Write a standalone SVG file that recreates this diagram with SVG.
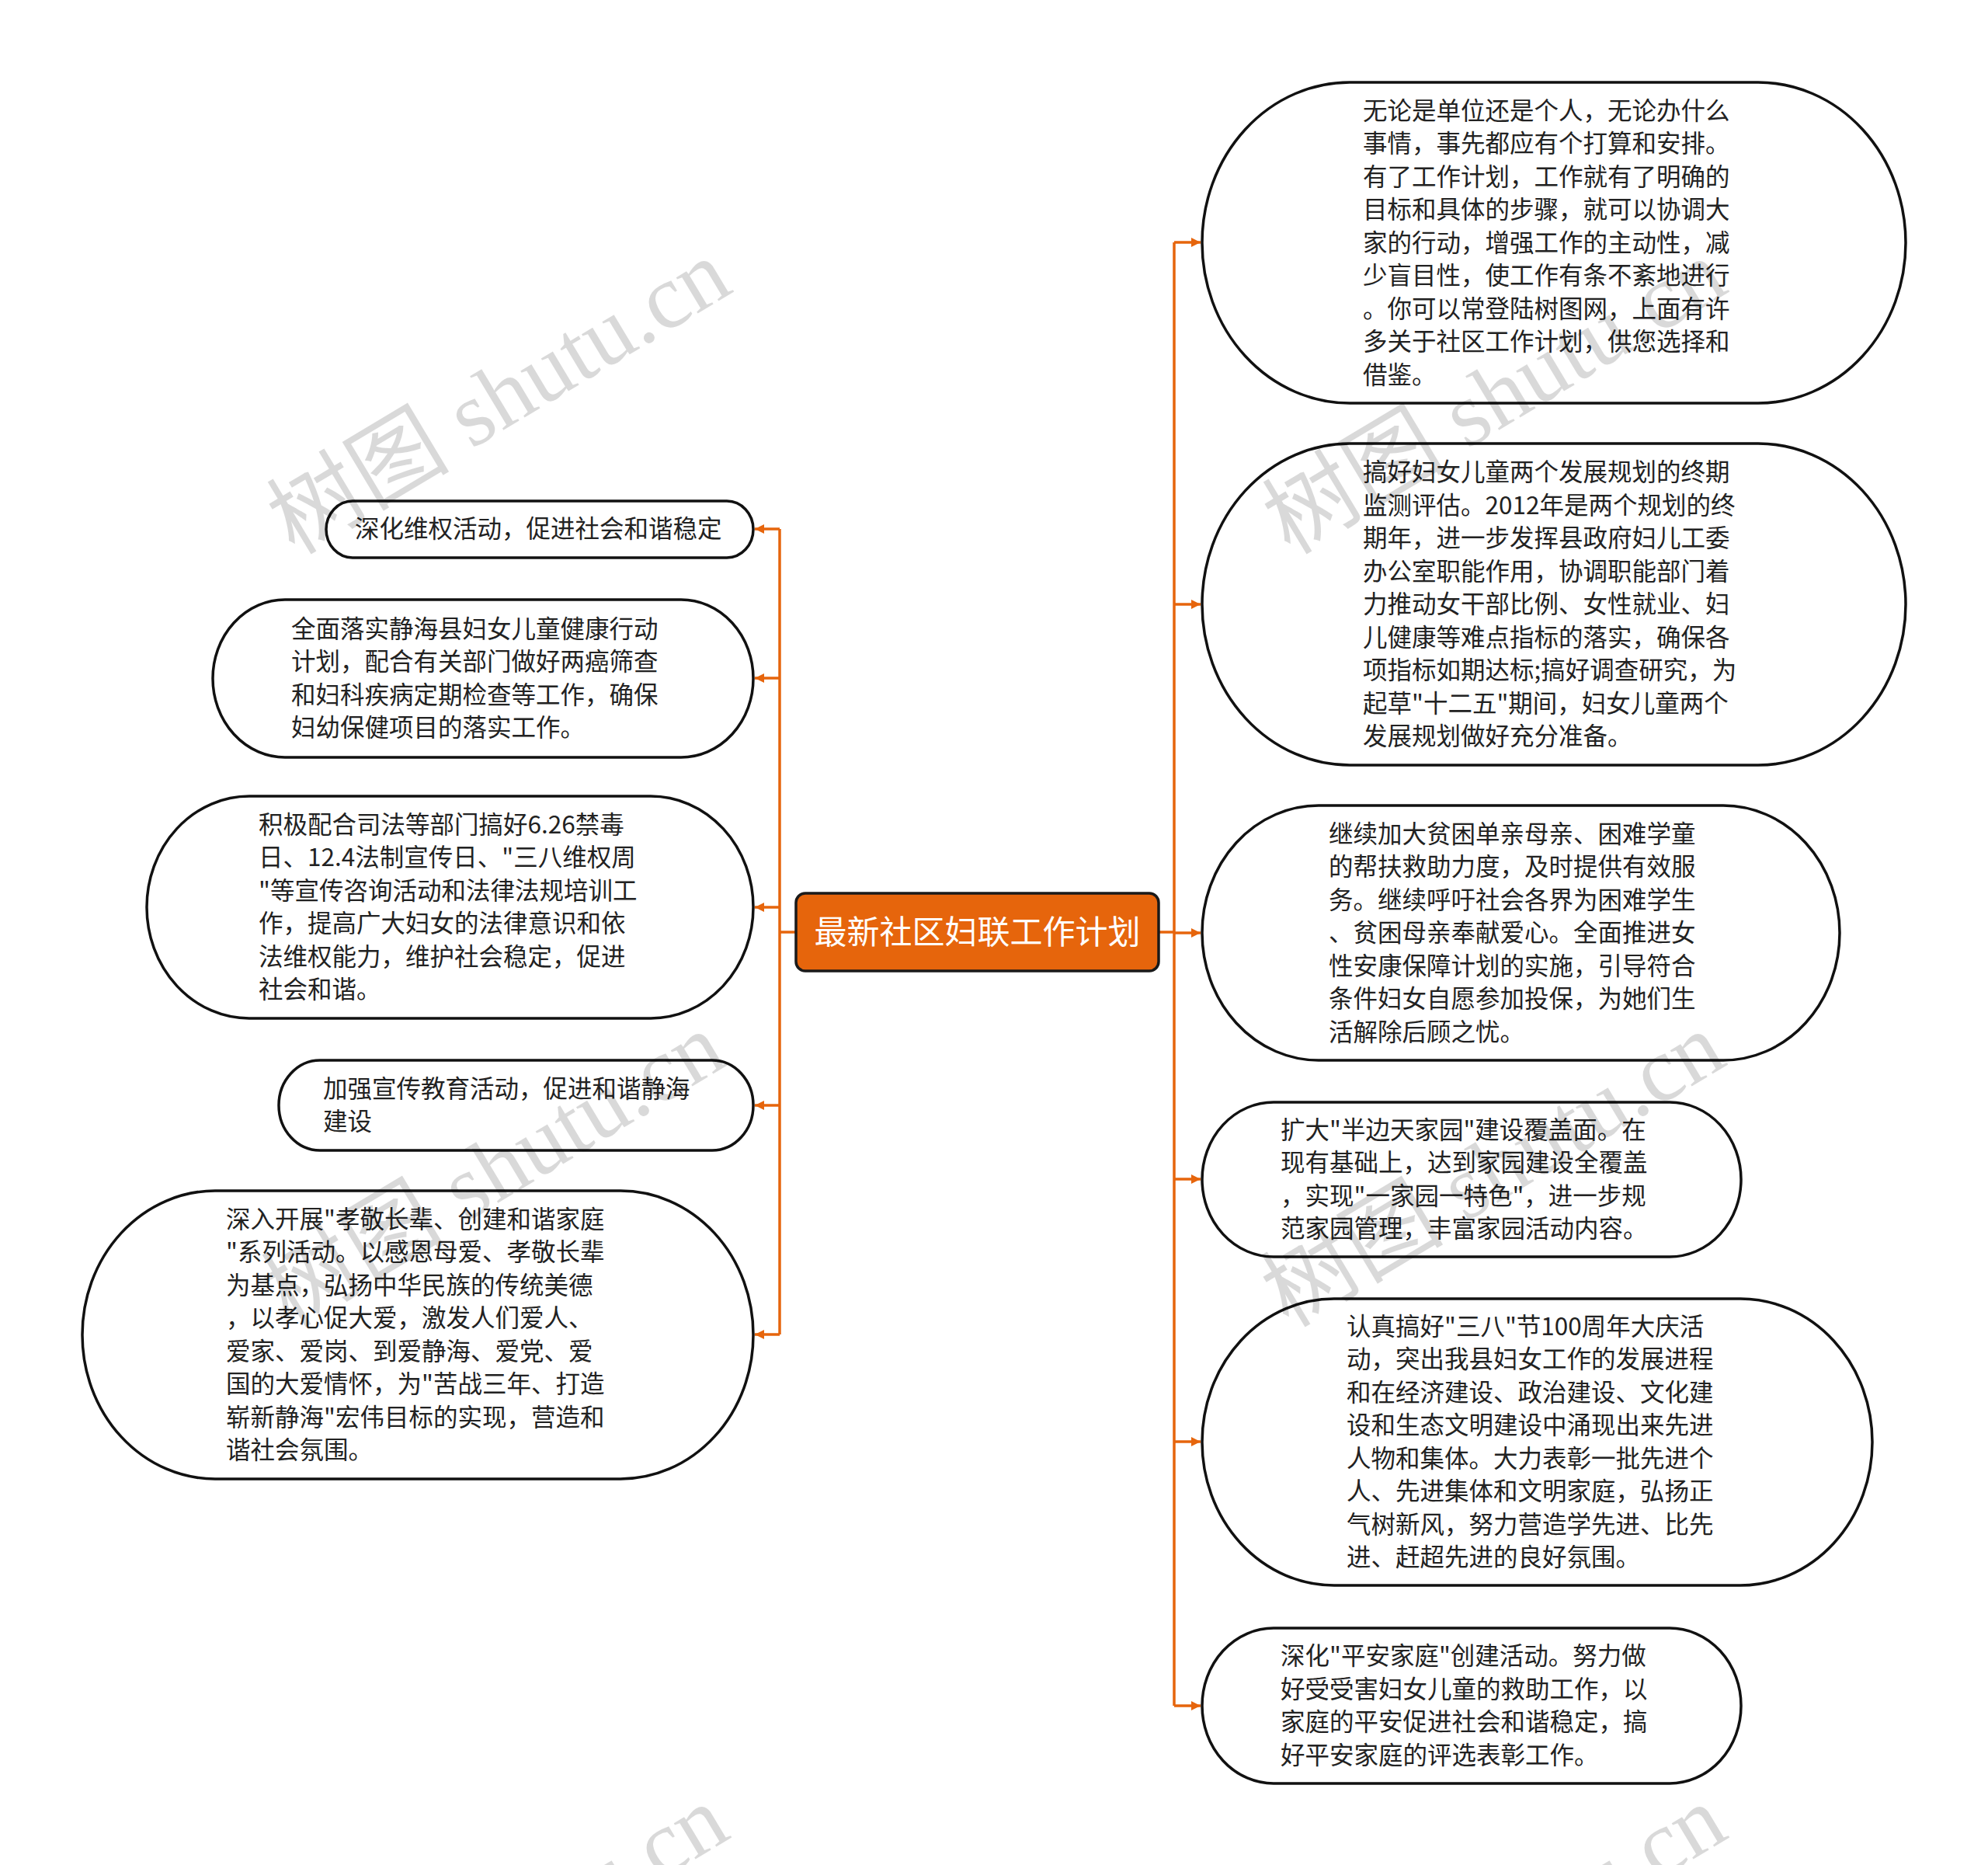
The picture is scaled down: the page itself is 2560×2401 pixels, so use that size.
<svg xmlns="http://www.w3.org/2000/svg" width="2560" height="2401" viewBox="0 0 2560 2401">
<style>
.node{fill:#ffffff;stroke:#111111;stroke-width:3.5}
.t{font-family:"Noto Sans CJK SC","Noto Sans",sans-serif;font-size:31.5px;fill:#222222}
.conn{fill:none;stroke:#E6650C;stroke-width:3.5}
.root{fill:#E6650C;stroke:#1a1a1a;stroke-width:3.5}
.rt{font-family:"Noto Sans CJK SC","Noto Sans",sans-serif;font-size:42px;fill:#ffffff}
.wm{font-family:"Liberation Serif","Noto Sans CJK SC",serif;font-size:118px;fill:#000000;fill-opacity:0.15}
</style>
<defs>
<marker id="arr" markerUnits="userSpaceOnUse" markerWidth="14" markerHeight="12" refX="12" refY="6" orient="auto">
<path d="M0,0 L12,6 L0,12 Z" fill="#E6650C"/>
</marker>
</defs>
<rect width="2560" height="2401" fill="#ffffff"/>

<g id="connectors">
<path class="conn" d="M1492,1200 H1512"/>
<path class="conn" d="M1512,312 V2196"/>
<path class="conn" d="M1512,312 H1546" marker-end="url(#arr)"/>
<path class="conn" d="M1512,778 H1546" marker-end="url(#arr)"/>
<path class="conn" d="M1512,1201 H1546" marker-end="url(#arr)"/>
<path class="conn" d="M1512,1518 H1546" marker-end="url(#arr)"/>
<path class="conn" d="M1512,1856 H1546" marker-end="url(#arr)"/>
<path class="conn" d="M1512,2196 H1546" marker-end="url(#arr)"/>
<path class="conn" d="M1025,1200 H1004"/>
<path class="conn" d="M1004,681 V1718"/>
<path class="conn" d="M1004,681 H972" marker-end="url(#arr)"/>
<path class="conn" d="M1004,873 H972" marker-end="url(#arr)"/>
<path class="conn" d="M1004,1168 H972" marker-end="url(#arr)"/>
<path class="conn" d="M1004,1423 H972" marker-end="url(#arr)"/>
<path class="conn" d="M1004,1718 H972" marker-end="url(#arr)"/>
</g>

<g id="root">
<rect class="root" x="1025" y="1150" width="467" height="100" rx="12" ry="12"/>
<text class="rt" x="1258.5" y="1215" text-anchor="middle">最新社区妇联工作计划</text>
</g>

<g id="r1">
<rect class="node" x="1548" y="106" width="906" height="413" rx="190" ry="206.5"/>
<text class="t">
<tspan x="1755" y="154">无论是单位还是个人，无论办什么</tspan>
<tspan x="1755" y="196">事情，事先都应有个打算和安排。</tspan>
<tspan x="1755" y="239">有了工作计划，工作就有了明确的</tspan>
<tspan x="1755" y="281">目标和具体的步骤，就可以协调大</tspan>
<tspan x="1755" y="324">家的行动，增强工作的主动性，减</tspan>
<tspan x="1755" y="366">少盲目性，使工作有条不紊地进行</tspan>
<tspan x="1755" y="409">。你可以常登陆树图网，上面有许</tspan>
<tspan x="1755" y="451">多关于社区工作计划，供您选择和</tspan>
<tspan x="1755" y="494">借鉴。</tspan>
</text>
</g>

<g id="r2">
<rect class="node" x="1548" y="571" width="906" height="414" rx="190" ry="207"/>
<text class="t">
<tspan x="1755" y="619">搞好妇女儿童两个发展规划的终期</tspan>
<tspan x="1755" y="662">监测评估。2012年是两个规划的终</tspan>
<tspan x="1755" y="704">期年，进一步发挥县政府妇儿工委</tspan>
<tspan x="1755" y="747">办公室职能作用，协调职能部门着</tspan>
<tspan x="1755" y="789">力推动女干部比例、女性就业、妇</tspan>
<tspan x="1755" y="832">儿健康等难点指标的落实，确保各</tspan>
<tspan x="1755" y="874">项指标如期达标;搞好调查研究，为</tspan>
<tspan x="1755" y="917">起草"十二五"期间，妇女儿童两个</tspan>
<tspan x="1755" y="959">发展规划做好充分准备。</tspan>
</text>
</g>

<g id="r3">
<rect class="node" x="1548" y="1037" width="821" height="328" rx="150" ry="164"/>
<text class="t">
<tspan x="1711" y="1085">继续加大贫困单亲母亲、困难学童</tspan>
<tspan x="1711" y="1127">的帮扶救助力度，及时提供有效服</tspan>
<tspan x="1711" y="1170">务。继续呼吁社会各界为困难学生</tspan>
<tspan x="1711" y="1212">、贫困母亲奉献爱心。全面推进女</tspan>
<tspan x="1711" y="1255">性安康保障计划的实施，引导符合</tspan>
<tspan x="1711" y="1297">条件妇女自愿参加投保，为她们生</tspan>
<tspan x="1711" y="1340">活解除后顾之忧。</tspan>
</text>
</g>

<g id="r4">
<rect class="node" x="1548" y="1419" width="694" height="199" rx="92" ry="99.5"/>
<text class="t">
<tspan x="1649" y="1466">扩大"半边天家园"建设覆盖面。在</tspan>
<tspan x="1649" y="1508">现有基础上，达到家园建设全覆盖</tspan>
<tspan x="1649" y="1551">，实现"一家园一特色"，进一步规</tspan>
<tspan x="1649" y="1593">范家园管理，丰富家园活动内容。</tspan>
</text>
</g>

<g id="r5">
<rect class="node" x="1548" y="1672" width="863" height="369" rx="170" ry="184.5"/>
<text class="t">
<tspan x="1734" y="1719">认真搞好"三八"节100周年大庆活</tspan>
<tspan x="1734" y="1761">动，突出我县妇女工作的发展进程</tspan>
<tspan x="1734" y="1804">和在经济建设、政治建设、文化建</tspan>
<tspan x="1734" y="1846">设和生态文明建设中涌现出来先进</tspan>
<tspan x="1734" y="1889">人物和集体。大力表彰一批先进个</tspan>
<tspan x="1734" y="1931">人、先进集体和文明家庭，弘扬正</tspan>
<tspan x="1734" y="1974">气树新风，努力营造学先进、比先</tspan>
<tspan x="1734" y="2016">进、赶超先进的良好氛围。</tspan>
</text>
</g>

<g id="r6">
<rect class="node" x="1548" y="2096" width="694" height="200" rx="92" ry="100"/>
<text class="t">
<tspan x="1649" y="2143">深化"平安家庭"创建活动。努力做</tspan>
<tspan x="1649" y="2186">好受受害妇女儿童的救助工作，以</tspan>
<tspan x="1649" y="2228">家庭的平安促进社会和谐稳定，搞</tspan>
<tspan x="1649" y="2271">好平安家庭的评选表彰工作。</tspan>
</text>
</g>

<g id="l1">
<rect class="node" x="420" y="645" width="550" height="73" rx="34" ry="36.5"/>
<text class="t"><tspan x="457" y="692">深化维权活动，促进社会和谐稳定</tspan></text>
</g>

<g id="l2">
<rect class="node" x="274" y="772" width="696" height="203" rx="93" ry="101.5"/>
<text class="t">
<tspan x="375" y="821">全面落实静海县妇女儿童健康行动</tspan>
<tspan x="375" y="863">计划，配合有关部门做好两癌筛查</tspan>
<tspan x="375" y="906">和妇科疾病定期检查等工作，确保</tspan>
<tspan x="375" y="948">妇幼保健项目的落实工作。</tspan>
</text>
</g>

<g id="l3">
<rect class="node" x="189" y="1025" width="781" height="286" rx="132" ry="143"/>
<text class="t">
<tspan x="333" y="1073">积极配合司法等部门搞好6.26禁毒</tspan>
<tspan x="333" y="1115">日、12.4法制宣传日、"三八维权周</tspan>
<tspan x="333" y="1158">"等宣传咨询活动和法律法规培训工</tspan>
<tspan x="333" y="1200">作，提高广大妇女的法律意识和依</tspan>
<tspan x="333" y="1243">法维权能力，维护社会稳定，促进</tspan>
<tspan x="333" y="1285">社会和谐。</tspan>
</text>
</g>

<g id="l4">
<rect class="node" x="359" y="1365" width="611" height="116" rx="53" ry="58"/>
<text class="t">
<tspan x="416" y="1413">加强宣传教育活动，促进和谐静海</tspan>
<tspan x="416" y="1455">建设</tspan>
</text>
</g>

<g id="l5">
<rect class="node" x="106" y="1533" width="864" height="371" rx="171" ry="185.5"/>
<text class="t">
<tspan x="291" y="1581">深入开展"孝敬长辈、创建和谐家庭</tspan>
<tspan x="291" y="1623">"系列活动。以感恩母爱、孝敬长辈</tspan>
<tspan x="291" y="1666">为基点，弘扬中华民族的传统美德</tspan>
<tspan x="291" y="1708">，以孝心促大爱，激发人们爱人、</tspan>
<tspan x="291" y="1751">爱家、爱岗、到爱静海、爱党、爱</tspan>
<tspan x="291" y="1793">国的大爱情怀，为"苦战三年、打造</tspan>
<tspan x="291" y="1836">崭新静海"宏伟目标的实现，营造和</tspan>
<tspan x="291" y="1878">谐社会氛围。</tspan>
</text>
</g>

<g id="watermarks">
<text class="wm" text-anchor="middle" transform="translate(663,545) rotate(-31)">树图 shutu.cn</text>
<text class="wm" text-anchor="middle" transform="translate(1945,545) rotate(-31)">树图 shutu.cn</text>
<text class="wm" text-anchor="middle" transform="translate(656,1540) rotate(-31)">树图 shutu.cn</text>
<text class="wm" text-anchor="middle" transform="translate(1943,1540) rotate(-31)">树图 shutu.cn</text>
<text class="wm" text-anchor="middle" transform="translate(660,2535) rotate(-31)">树图 shutu.cn</text>
<text class="wm" text-anchor="middle" transform="translate(1945,2535) rotate(-31)">树图 shutu.cn</text>
</g>
</svg>
